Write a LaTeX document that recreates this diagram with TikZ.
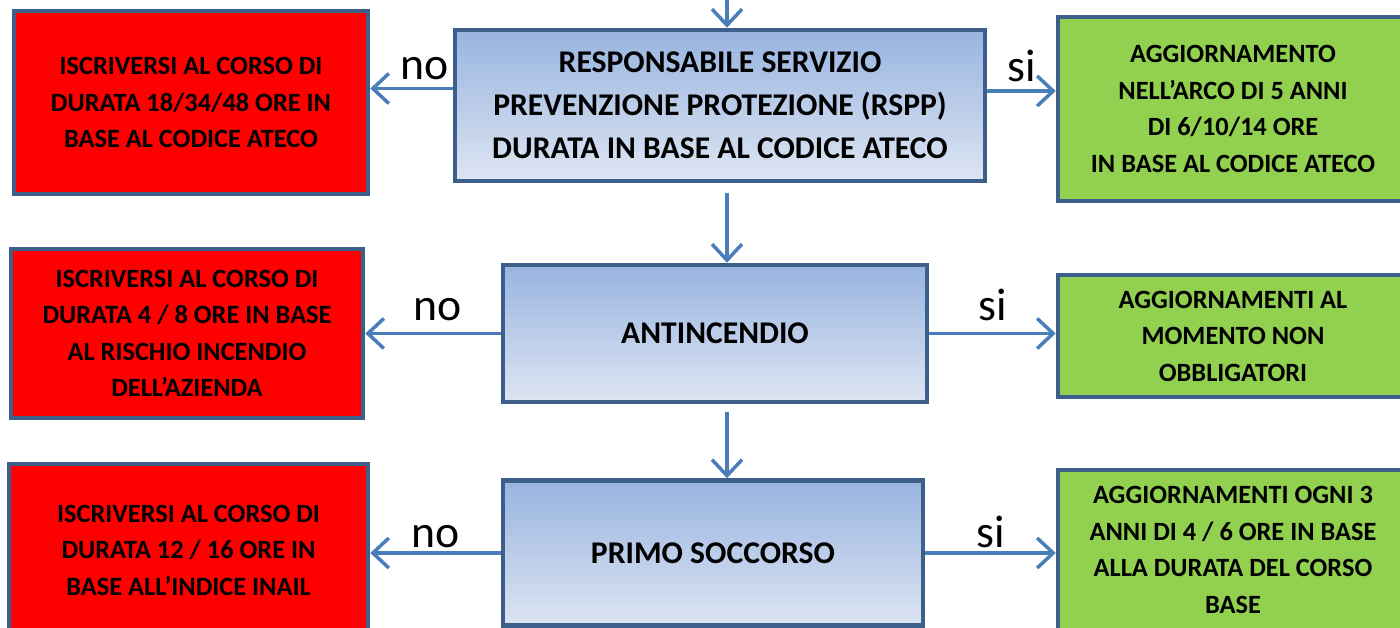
\documentclass[tikz,border=0pt]{standalone}
\usepackage{fontspec}
\setmainfont{Carlito}
\usepackage{xcolor}
\usetikzlibrary{arrows.meta,positioning,calc}
\definecolor{rosso}{HTML}{FF0000}
\definecolor{verde}{HTML}{92D050}
\definecolor{bordo}{HTML}{3C5F8C}
\definecolor{freccia}{HTML}{4A7EBB}
\definecolor{azzurroA}{HTML}{98B4E0}
\definecolor{azzurroB}{HTML}{DDE5F2}
\begin{document}
\begin{tikzpicture}[x=0.02cm,y=-0.02cm,
  box/.style={draw=bordo,line width=2.6pt,align=center,inner sep=0pt,
    font=\bfseries\fontsize{15}{20.8}\selectfont},
  nobox/.style={box,fill=rosso},
  sibox/.style={box,fill=verde},
  corso/.style={box,top color=azzurroA,bottom color=azzurroB,
    font=\bfseries\fontsize{18}{24.5}\selectfont},
  arr/.style={draw=freccia,line width=2pt,-{Straight Barb[length=3.2mm,width=6mm]}},
  scelta/.style={font=\fontsize{26}{30}\selectfont,inner sep=2pt}]
\useasboundingbox (0,0) rectangle (1400,628);
% Corsi
\node[corso,minimum width=10.6cm,minimum height=3.02cm] (rspp) at (720,105.5)
  {RESPONSABILE SERVIZIO\\PREVENZIONE PROTEZIONE (RSPP)\\DURATA IN BASE AL CODICE ATECO};
\node[corso,minimum width=8.48cm,minimum height=2.74cm] (antincendio) at (715,333.5) {ANTINCENDIO};
\node[corso,minimum width=8.4cm,minimum height=2.9cm] (soccorso) at (713,553) {PRIMO SOCCORSO};
% Risposta no
\node[nobox,minimum width=7.08cm,minimum height=3.66cm] (iscr1) at (191,102.5)
  {ISCRIVERSI AL CORSO DI\\DURATA 18/34/48 ORE IN\\BASE AL CODICE ATECO};
\node[nobox,minimum width=7.04cm,minimum height=3.38cm] (iscr2) at (187,333.5)
  {ISCRIVERSI AL CORSO DI\\DURATA 4 / 8 ORE IN BASE\\AL RISCHIO INCENDIO\\DELL’AZIENDA};
\node[nobox,minimum width=7.18cm,minimum height=3.44cm] (iscr3) at (188.5,550)
  {ISCRIVERSI AL CORSO DI\\DURATA 12 / 16 ORE IN\\BASE ALL’INDICE INAIL};
% Risposta si
\node[sibox,minimum width=7cm,minimum height=3.68cm] (agg1) at (1233,109)
  {AGGIORNAMENTO\\NELL’ARCO DI 5 ANNI\\DI 6/10/14 ORE\\IN BASE AL CODICE ATECO};
\node[sibox,minimum width=7cm,minimum height=2.44cm] (agg2) at (1233,336)
  {AGGIORNAMENTI AL\\MOMENTO NON\\OBBLIGATORI};
\node[sibox,minimum width=7cm,minimum height=3.2cm] (agg3) at (1233,550)
  {AGGIORNAMENTI OGNI 3\\ANNI DI 4 / 6 ORE IN BASE\\ALLA DURATA DEL CORSO\\BASE};
% Frecce verticali
\coordinate (alto) at (727,-5);
\draw[arr] (alto) -- (rspp.north -| alto);
\draw[arr,shorten <=0.2cm] (rspp.south -| alto) -- (antincendio.north -| alto);
\draw[arr,shorten <=0.16cm] (antincendio.south -| alto) -- (soccorso.north -| alto);
% Frecce no / si
\path ([yshift=0.34cm]rspp.west) coordinate (no1) ([yshift=0.29cm]rspp.east) coordinate (si1);
\draw[arr] (no1) -- (no1 -| iscr1.east) node[scelta,midway,above=2pt,xshift=0.26cm] {no};
\draw[arr] (si1) -- (si1 -| agg1.west) node[scelta,midway,above=2pt] {si};
\draw[arr] (antincendio.west) -- (antincendio.west -| iscr2.east) node[scelta,midway,above=4pt,xshift=0.1cm] {no};
\draw[arr] (antincendio.east) -- (antincendio.east -| agg2.west) node[scelta,midway,above=4pt] {si};
\draw[arr] (soccorso.west) -- (soccorso.west -| iscr3.east) node[scelta,midway,above=0pt] {no};
\draw[arr] (soccorso.east) -- (soccorso.east -| agg3.west) node[scelta,midway,above=0pt] {si};
\end{tikzpicture}
\end{document}
